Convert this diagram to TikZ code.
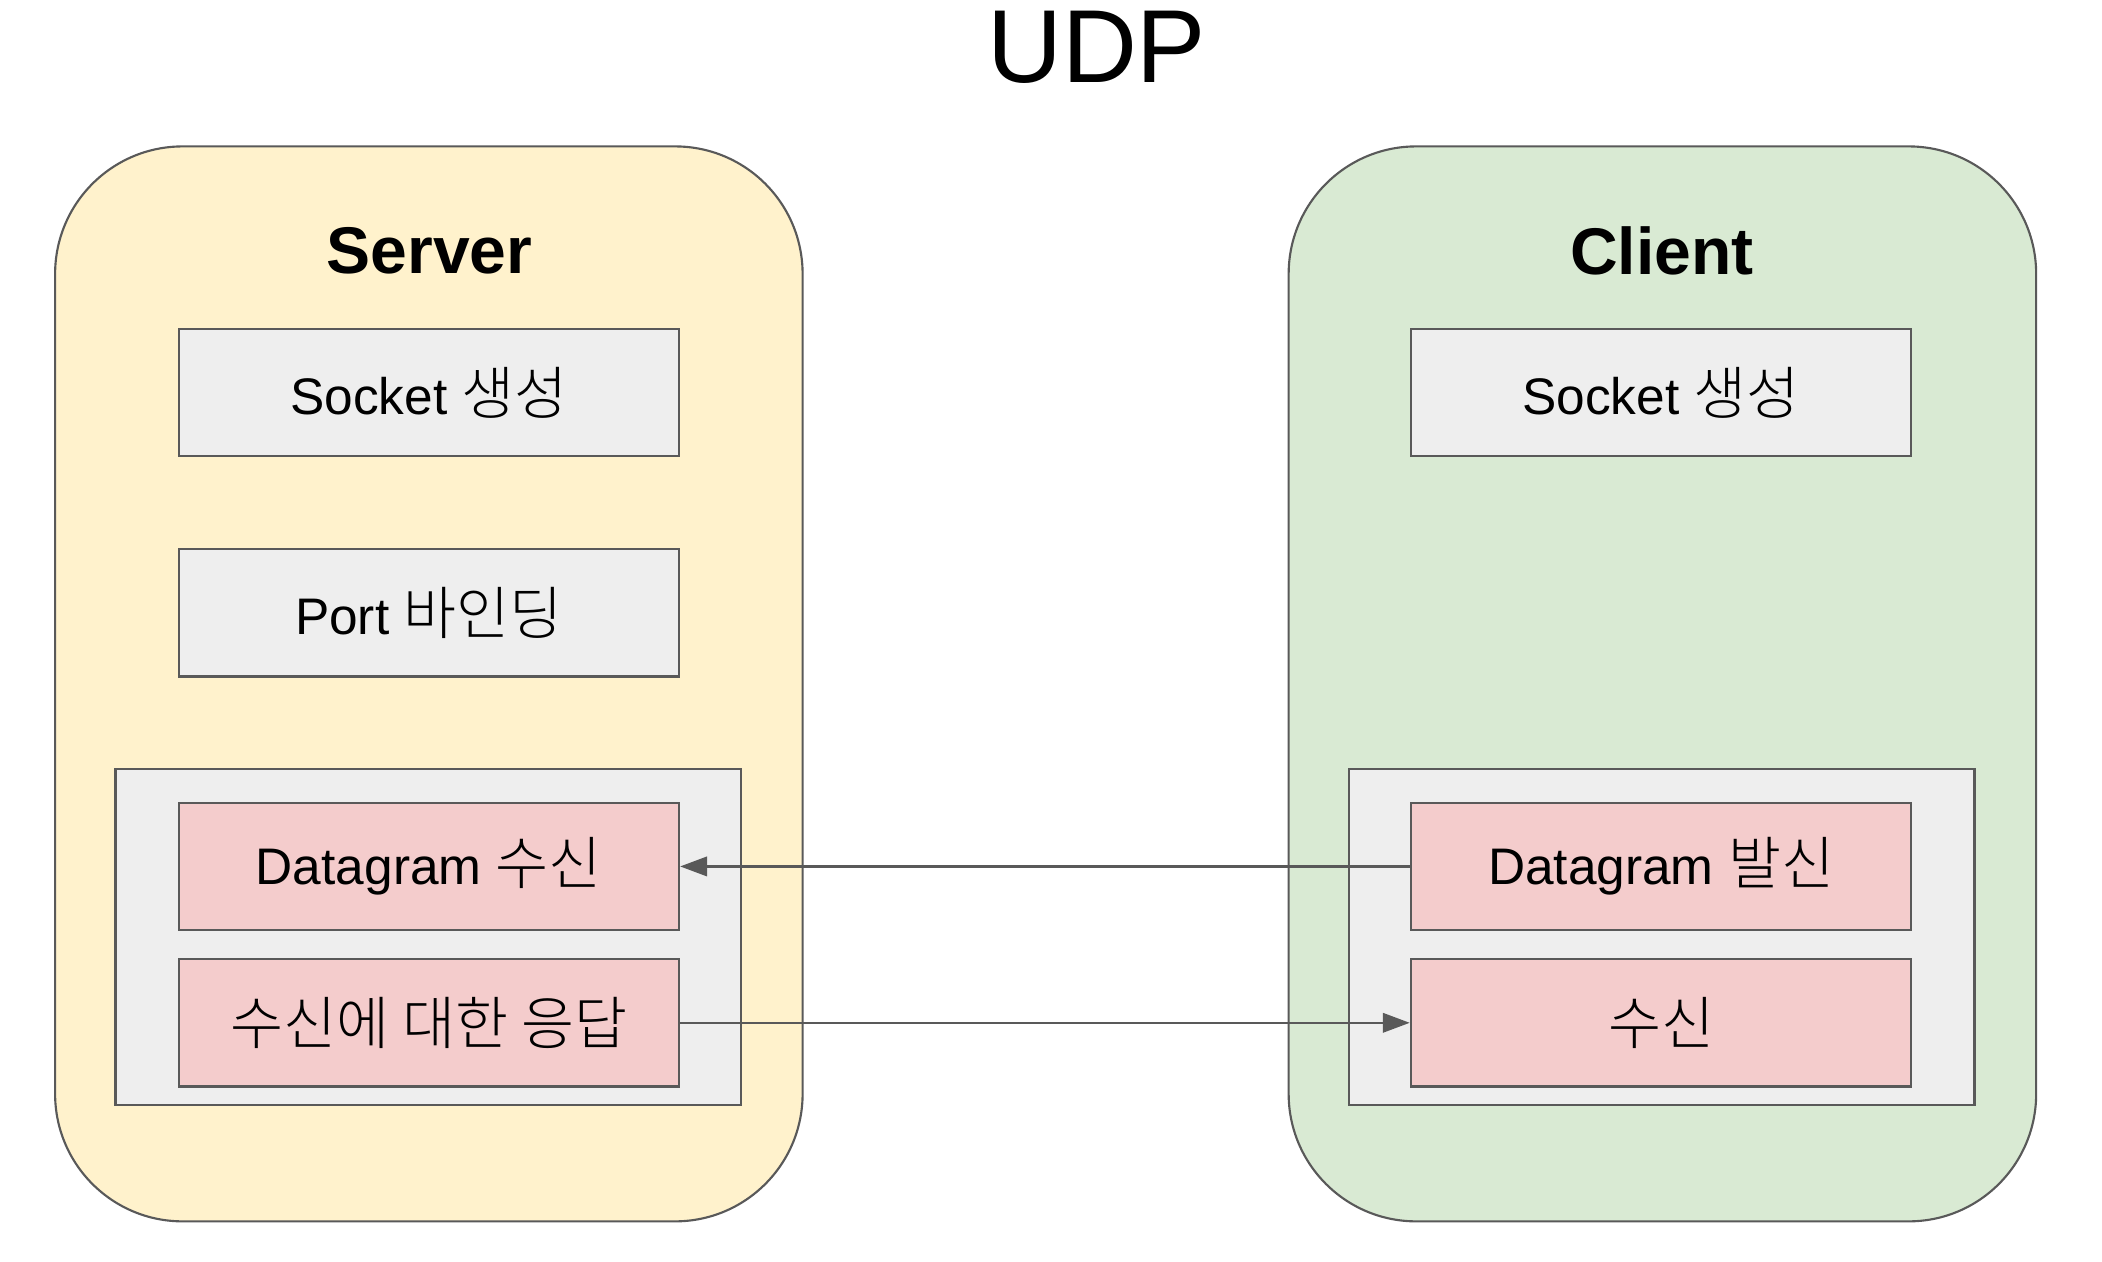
\documentclass[tikz,border=0pt]{standalone}
\usepackage{fontspec}
\setmainfont{Liberation Sans}
\newfontfamily\kofont[Scale=1.12]{Noto Sans CJK KR Light}
\usepackage{tikz}
\usetikzlibrary{arrows.meta,positioning}
\definecolor{serverfill}{HTML}{FFF2CC}
\definecolor{clientfill}{HTML}{D9EAD3}
\definecolor{boxgray}{HTML}{EEEEEE}
\definecolor{msgpink}{HTML}{F4CCCC}
\definecolor{edgegray}{HTML}{595959}
\tikzset{
    side/.style={
           rectangle,
           rounded corners=1.9cm,
           draw=edgegray, line width=0.9pt,
           minimum width=11.14cm,
           minimum height=16.02cm,
           },
    stepbox/.style={
           rectangle,
           draw=edgegray, line width=0.9pt,
           fill=boxgray,
           minimum width=7.46cm,
           minimum height=1.9cm,
           inner sep=0pt,
           font=\fontsize{21.8}{26}\selectfont,
           },
    msgbox/.style={
           stepbox,
           fill=msgpink,
           },
    cluster/.style={
           rectangle,
           draw=edgegray, line width=0.9pt,
           fill=boxgray,
           minimum width=9.32cm,
           minimum height=5cm,
           },
    pil/.style={
           -{Triangle[length=0.4cm,width=0.29cm]},
           draw=edgegray, fill=edgegray,
           line width=0.9pt,
           }
}

\begin{document}
\begin{tikzpicture}[x=0.02cm,y=-0.02cm]
\useasboundingbox (0,0) rectangle (1566,940.2);
% title
\node (udp) at (817,35) {\fontsize{44}{50}\selectfont UDP};
% server side
\node (srv) at (319.5,509.5) [side, fill=serverfill] {};
\node (srvtitle) at (320,187) {\fontsize{28}{34}\selectfont\bfseries Server};
\node (ssock) at (319.5,292.5) [stepbox] {Socket {\kofont 생성}};
\node (sport) at (319.5,456.5) [stepbox] {Port {\kofont 바인딩}};
\node (sgrp) at (319,698) [cluster] {};
\node (srecv) at (319.5,645.5) [msgbox] {Datagram {\kofont 수신}};
\node (sresp) at (319.5,762) [msgbox] {{\kofont 수신에 대한 응답}};
% client side
\node (cli) at (1238.5,509.5) [side, fill=clientfill] {};
\node (clititle) at (1238,187) {\fontsize{28}{34}\selectfont\bfseries Client};
\node (csock) at (1237.5,292.5) [stepbox] {Socket {\kofont 생성}};
\node (cgrp) at (1238,698) [cluster] {};
\node (csend) at (1237.5,645.5) [msgbox] {Datagram {\kofont 발신}};
\node (crecv) at (1237.5,762) [msgbox] {{\kofont 수신}};
% messages
\draw[pil] (csend.west) -- (srecv.east);
\draw[pil] (sresp.east) -- (crecv.west);
\end{tikzpicture}
\end{document}
